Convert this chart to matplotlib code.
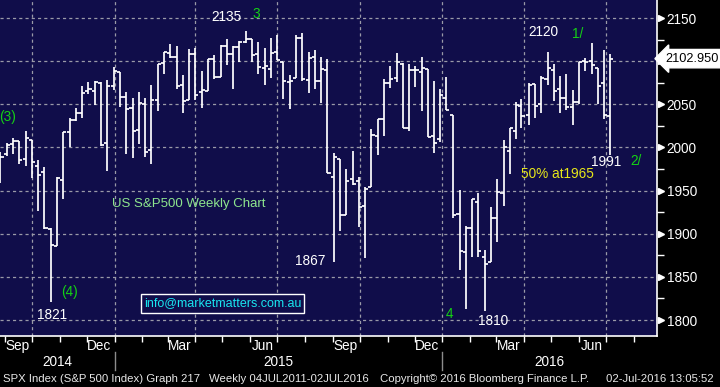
import matplotlib
matplotlib.use("Agg")
import matplotlib.pyplot as plt
import matplotlib.dates as mdates
from matplotlib.transforms import blended_transform_factory
import pandas as pd

plt.rcParams['font.family'] = ['Liberation Sans', 'DejaVu Sans']

# ---------------- data (weekly SPX bars, week-ending dates) ----------------
weeks = ["2014-08-22", "2014-08-29", "2014-09-05", "2014-09-12", "2014-09-19", "2014-09-26",
         "2014-10-03", "2014-10-10", "2014-10-17", "2014-10-24", "2014-10-31", "2014-11-07",
         "2014-11-14", "2014-11-21", "2014-11-28", "2014-12-05", "2014-12-12", "2014-12-19",
         "2014-12-26", "2015-01-02", "2015-01-09", "2015-01-16", "2015-01-23", "2015-01-30",
         "2015-02-06", "2015-02-13", "2015-02-20", "2015-02-27", "2015-03-06", "2015-03-13",
         "2015-03-20", "2015-03-27", "2015-04-03", "2015-04-10", "2015-04-17", "2015-04-24",
         "2015-05-01", "2015-05-08", "2015-05-15", "2015-05-22", "2015-05-29", "2015-06-05",
         "2015-06-12", "2015-06-19", "2015-06-26", "2015-07-03", "2015-07-10", "2015-07-17",
         "2015-07-24", "2015-07-31", "2015-08-07", "2015-08-14", "2015-08-21", "2015-08-28",
         "2015-09-04", "2015-09-11", "2015-09-18", "2015-09-25", "2015-10-02", "2015-10-09",
         "2015-10-16", "2015-10-23", "2015-10-30", "2015-11-06", "2015-11-13", "2015-11-20",
         "2015-11-27", "2015-12-04", "2015-12-11", "2015-12-18", "2015-12-24", "2015-12-31",
         "2016-01-08", "2016-01-15", "2016-01-22", "2016-01-29", "2016-02-05", "2016-02-12",
         "2016-02-19", "2016-02-26", "2016-03-04", "2016-03-11", "2016-03-18", "2016-03-24",
         "2016-04-01", "2016-04-08", "2016-04-15", "2016-04-22", "2016-04-29", "2016-05-06",
         "2016-05-13", "2016-05-20", "2016-05-27", "2016-06-03", "2016-06-10", "2016-06-17",
         "2016-06-24", "2016-07-01"]

opens = [1958.4, 1992.6, 2004.1, 2007.2, 1986.5, 2009.1, 1978.0, 1971.0, 1905.7, 1885.6,
         1962.0, 2018.2, 2032.0, 2039.7, 2065.1, 2065.8, 2074.8, 2005.0, 2071.0, 2087.6,
         2058.9, 2046.1, 2020.8, 2050.4, 1996.7, 2055.5, 2097.6, 2109.1, 2105.2, 2072.3,
         2055.4, 2108.1, 2064.1, 2066.0, 2102.0, 2081.2, 2117.5, 2108.5, 2116.0, 2122.7,
         2125.3, 2108.6, 2092.3, 2091.3, 2110.6, 2098.6, 2075.4, 2080.0, 2126.8, 2078.2,
         2104.5, 2077.6, 2090.3, 1965.2, 1986.7, 1921.8, 1963.1, 1960.8, 1931.9, 1954.3,
         2013.7, 2033.5, 2075.1, 2080.8, 2096.6, 2022.1, 2089.4, 2088.0, 2090.4, 2013.4,
         2010.3, 2057.8, 2038.2, 1923.3, 1878.9, 1906.3, 1936.9, 1873.3, 1867.0, 1917.8,
         1947.1, 1996.1, 2019.3, 2048.6, 2037.9, 2073.2, 2050.2, 2078.8, 2089.4, 2067.2,
         2057.6, 2046.5, 2052.2, 2100.0, 2099.7, 2091.8, 2075.0, 2036.1]

highs = [1994.8, 2005.0, 2011.2, 2007.7, 2019.3, 2009.1, 1985.2, 1977.9, 1906.1, 1965.3,
         2018.2, 2034.3, 2046.2, 2071.5, 2075.8, 2077.3, 2075.8, 2077.9, 2093.6, 2088.0,
         2064.4, 2056.9, 2064.6, 2057.6, 2072.4, 2097.0, 2110.6, 2119.6, 2117.5, 2083.5,
         2113.9, 2114.9, 2088.2, 2102.6, 2107.7, 2118.7, 2125.9, 2117.7, 2123.9, 2134.7,
         2126.2, 2121.9, 2115.4, 2126.6, 2130.0, 2098.6, 2083.9, 2129.9, 2132.8, 2110.6,
         2112.7, 2105.1, 2102.7, 1993.5, 1986.7, 1975.0, 1996.0, 1965.2, 1953.8, 2020.9,
         2033.5, 2079.7, 2094.3, 2109.8, 2097.4, 2097.0, 2094.1, 2104.3, 2090.4, 2076.7,
         2067.4, 2081.6, 2038.2, 1950.3, 1908.9, 1940.2, 1947.2, 1881.6, 1930.7, 1962.9,
         2009.1, 2022.4, 2052.4, 2056.6, 2075.1, 2073.2, 2083.2, 2111.1, 2096.8, 2083.4,
         2084.9, 2066.7, 2099.1, 2103.5, 2120.6, 2091.8, 2113.3, 2108.7]

lows = [1958.4, 1990.5, 1992.4, 1980.3, 1978.5, 1965.0, 1926.0, 1906.0, 1820.7, 1885.6,
        1940.4, 2001.0, 2030.2, 2034.2, 2062.5, 2049.6, 2002.1, 1972.6, 2066.7, 2046.5,
        1992.4, 1988.1, 2004.5, 1989.2, 1980.9, 2041.9, 2085.4, 2103.8, 2067.3, 2039.7,
        2055.4, 2055.1, 2045.8, 2066.0, 2079.0, 2081.2, 2096.0, 2067.9, 2099.2, 2121.0,
        2099.2, 2085.7, 2072.1, 2080.2, 2101.5, 2056.6, 2044.0, 2080.0, 2077.5, 2063.5,
        2067.9, 2052.1, 1970.9, 1867.0, 1903.1, 1921.8, 1957.0, 1908.2, 1871.9, 1954.3,
        1990.7, 2013.1, 2069.3, 2076.2, 2022.0, 2019.4, 2070.3, 2042.4, 2012.3, 1993.3,
        2005.9, 2043.6, 1918.5, 1857.8, 1812.3, 1872.7, 1872.7, 1810.1, 1867.0, 1891.0,
        1931.8, 1969.3, 2010.1, 2022.5, 2026.6, 2033.8, 2039.7, 2072.0, 2053.4, 2039.5,
        2043.1, 2025.7, 2049.8, 2088.7, 2085.1, 2050.4, 2032.6, 1991.7]

closes = [1988.4, 2003.4, 2007.7, 1985.5, 2010.4, 1982.9, 1967.9, 1906.1, 1886.8, 1964.6,
          2018.1, 2031.9, 2039.8, 2063.5, 2067.6, 2075.4, 2002.3, 2070.7, 2088.8, 2058.2,
          2044.8, 2019.4, 2051.8, 1995.0, 2055.5, 2097.0, 2110.3, 2104.5, 2071.3, 2053.4,
          2108.1, 2061.0, 2067.0, 2102.1, 2081.2, 2117.7, 2108.3, 2116.1, 2122.7, 2126.1,
          2107.4, 2092.8, 2094.1, 2110.0, 2101.5, 2076.8, 2076.6, 2126.6, 2079.7, 2103.8,
          2077.6, 2091.5, 1970.9, 1988.9, 1921.2, 1961.1, 1958.0, 1931.3, 1951.4, 2014.9,
          2033.1, 2075.2, 2079.4, 2099.2, 2023.0, 2089.2, 2090.1, 2091.7, 2012.4, 2005.6,
          2061.0, 2043.9, 1922.0, 1880.3, 1906.9, 1940.2, 1880.1, 1864.8, 1917.8, 1948.1,
          2000.0, 2022.2, 2049.6, 2035.9, 2072.8, 2047.6, 2080.7, 2091.6, 2065.3, 2057.1,
          2046.6, 2052.3, 2099.1, 2099.1, 2096.1, 2071.2, 2037.4, 2102.95]

y_ticks = [1800, 1850, 1900, 1950, 2000, 2050, 2100, 2150]
y_tick_labels = ["1800", "1850", "1900", "1950", "2000", "2050", "", "2150"]
month_labels = ["Sep", "Dec", "Mar", "Jun", "Sep", "Dec", "Mar", "Jun"]
month_label_dates = ["2014-09-15", "2014-12-15", "2015-03-15", "2015-06-15",
                     "2015-09-15", "2015-12-15", "2016-03-15", "2016-06-15"]
years = ["2014", "2015", "2016"]
last_price = 2102.95

# ---------------- figure ----------------
W, H = 720, 387
BG = "#100d4a"
fig = plt.figure(figsize=(W / 100, H / 100), dpi=100, facecolor="black")
ax = fig.add_axes([0, 1 - 336 / H, 657 / W, 336 / H])
ax.set_facecolor(BG)


def px(x, y):
    return x / W, 1 - y / H


# bars plotted a few days after the week-ending date (as Bloomberg does)
dates = pd.to_datetime(weeks) + pd.Timedelta(days=5)
xs = mdates.date2num(dates)
half = 3.4
ax.vlines(xs, lows, highs, color="white", lw=1.25, zorder=3)
ax.hlines(opens, xs - half, xs, color="white", lw=1.25, zorder=3)
ax.hlines(closes, xs, xs + half, color="white", lw=1.25, zorder=3)

x0 = mdates.date2num(pd.Timestamp("2014-08-26 12:00"))
x1 = mdates.date2num(pd.Timestamp("2016-08-26 20:00"))
ax.set_xlim(x0, x1)
ax.set_ylim(1781.5, 2170.9)

# grid
for yv in y_ticks:
    ax.axhline(yv, color="#9a9aa8", lw=0.9, ls=(0, (2.5, 2.5)), zorder=1)
quarter_starts = pd.date_range("2014-10-01", "2016-07-01", freq="QS")
for d in quarter_starts:
    ax.axvline(mdates.date2num(d), color="#9a9aa8", lw=0.9, ls=(0, (2.5, 2.5)), zorder=1)

# spines
for s in ["top", "left"]:
    ax.spines[s].set_visible(False)
for s in ["bottom", "right"]:
    ax.spines[s].set_color("white")
    ax.spines[s].set_linewidth(1.2)

# x axis: month ticks, custom labels
ax.xaxis.set_major_locator(mdates.MonthLocator())
ax.tick_params(axis="x", which="major", length=4, width=1, color="white",
               direction="out", labelbottom=False)
tr_x = blended_transform_factory(ax.transData, fig.transFigure)
for lab, d in zip(month_labels, month_label_dates):
    ax.text(mdates.date2num(pd.Timestamp(d)), 1 - 346 / H, lab, transform=tr_x,
            color="white", fontsize=9.8, ha="center", va="center")

# years
year_bounds = [x0, mdates.date2num(pd.Timestamp("2015-01-01")),
               mdates.date2num(pd.Timestamp("2016-01-01")), x1]
for i, yr in enumerate(years):
    xc = (year_bounds[i] + year_bounds[i + 1]) / 2
    ax.text(xc, 1 - 362 / H, yr, transform=tr_x, color="white",
            fontsize=9.8, ha="center", va="center")
for b in year_bounds[1:3]:
    ax.add_line(plt.Line2D([b, b], [1 - 352 / H, 1 - 370 / H], transform=tr_x,
                           color="#8c8c8c", lw=1, clip_on=False))

# y axis on the right
ax.yaxis.tick_right()
ax.set_yticks(y_ticks)
ax.set_yticklabels(y_tick_labels)
ax.set_yticks([v + 25 for v in y_ticks[:-1]], minor=True)
ax.tick_params(axis="y", which="major", length=0, pad=7, labelcolor="white", labelsize=9.8)
ax.tick_params(axis="y", which="minor", length=5, width=1, color="white", direction="out")
tr_y = blended_transform_factory(ax.transAxes, ax.transData)
ax.plot([1 + 3.5 / 657] * len(y_ticks), y_ticks, transform=tr_y, ls="none",
        marker=">", ms=5, mfc="white", mec="white", clip_on=False)

# last price tag
ax.text(1 + 8 / 657, last_price, f"{last_price:.3f}", transform=tr_y, color="black",
        fontsize=9.2, ha="left", va="center", zorder=5,
        bbox=dict(boxstyle="larrow,pad=0.25", fc="white", ec="white"))

# annotations
def note(x, y, s, c, fs=9.8, **kw):
    fig.text(*px(x, y), s, color=c, fontsize=fs, ha="center", va="center", **kw)

GREEN = "#14d214"
note(227, 17, "2135", "white")
note(256, 14, "3", GREEN)
note(8, 117, "(3)", GREEN)
note(70, 292, "(4)", GREEN)
note(52, 315, "1821", "white")
note(189, 204, "US S&P500 Weekly Chart", "#8ee68e", fs=9.5)
note(310, 261, "1867", "white")
note(450, 314, "4", GREEN)
note(493, 321, "1810", "white")
note(543, 32, "2120", "white")
note(578, 34, "1/", GREEN)
note(557, 174, "50% at1965", "#e6e619")
note(606, 162, "1991", "white")
note(636, 161, "2/", GREEN)
fig.text(*px(222.5, 303.5), "info@marketmatters.com.au", color="#19e6f0", fontsize=9,
         ha="center", va="center",
         bbox=dict(boxstyle="square,pad=0.25", fc=BG, ec="white", lw=1))

# footer
FC = "#e8e8e8"
for xx, s in [(3, "SPX Index (S&P 500 Index) Graph 217"),
              (209, "Weekly 04JUL2011-02JUL2016"),
              (380, "Copyright\u00a9 2016 Bloomberg Finance L.P."),
              (606, "02-Jul-2016 13:05:52")]:
    fig.text(*px(xx, 379), s, color=FC, fontsize=8.2, ha="left", va="center")

fig.savefig("out.png", dpi=100, facecolor="black")
